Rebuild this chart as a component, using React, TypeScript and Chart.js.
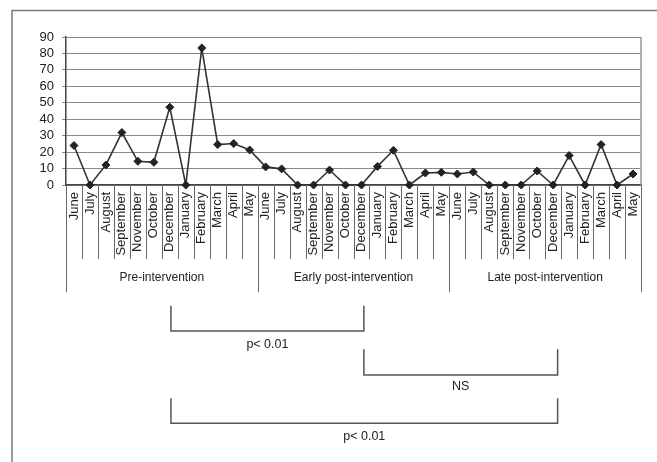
import { useEffect, useRef } from "react";
import { Chart, registerables } from "chart.js";

Chart.register(...registerables);

const months = ["June", "July", "August", "September", "November", "October", "December", "January", "February", "March", "April", "May"];
const categories = [...months, ...months, ...months];
const preValues = [24, 0, 12.2, 31.9, 14.4, 13.8, 47.3, 0, 83.3, 24.6, 25.2, 21.3];
const earlyValues = [11, 9.8, 0, 0, 9.1, 0, 0, 11.3, 21.1, 0, 7.3, 7.7];
const lateValues = [6.7, 7.9, 0, 0, 0, 8.5, 0, 17.9, 0, 24.6, 0, 6.7];
const periodLabels = ["Pre-intervention", "Early post-intervention", "Late post-intervention"];
const yMin = 0;
const yMax = 90;
const yStep = 10;
// comparison brackets, in category-index units
const bracketFrom = [6.07, 18.15, 6.07];
const bracketTo = [18.15, 30.28, 30.28];
const bracketLabels = ["p< 0.01", "NS", "p< 0.01"];

const FONT = "'Liberation Sans', Arial, sans-serif";

export default function App() {
  const ref = useRef<HTMLCanvasElement | null>(null);

  useEffect(() => {
    if (!ref.current) return;
    const bracketLevels = [
      { top: 305.7, bottom: 331, text: 345 },
      { top: 349.3, bottom: 375, text: 386.7 },
      { top: 398.3, bottom: 423.3, text: 436.7 },
    ];

    const decor = {
      id: "decor",
      afterDraw(chart: any) {
        const ctx = chart.ctx as CanvasRenderingContext2D;
        const area = chart.chartArea;
        const xs = chart.scales.x;
        ctx.save();
        // outer frame (top & left)
        ctx.strokeStyle = "#7a7a7a";
        ctx.lineWidth = 1.5;
        ctx.beginPath();
        ctx.moveTo(12, 462);
        ctx.lineTo(12, 10.5);
        ctx.lineTo(657, 10.5);
        ctx.stroke();

        // right border of plot area
        ctx.strokeStyle = "#999";
        ctx.lineWidth = 1.5;
        ctx.beginPath();
        ctx.moveTo(area.right, area.top);
        ctx.lineTo(area.right, area.bottom);
        ctx.stroke();

        // category separators
        const n = categories.length;
        const half = (xs.getPixelForValue(1) - xs.getPixelForValue(0)) / 2;
        ctx.strokeStyle = "#666";
        ctx.lineWidth = 1;
        for (let i = 0; i <= n; i++) {
          const x = i < n ? xs.getPixelForValue(i) - half : xs.getPixelForValue(n - 1) + half;
          const isGroup = i % months.length === 0;
          const yEnd = isGroup ? 292 : 259;
          ctx.beginPath();
          ctx.moveTo(Math.round(x) + 0.5, area.bottom);
          ctx.lineTo(Math.round(x) + 0.5, yEnd);
          ctx.stroke();
        }

        // group labels
        ctx.fillStyle = "#222";
        ctx.font = `12px ${FONT}`;
        ctx.textAlign = "center";
        ctx.textBaseline = "middle";
        periodLabels.forEach((lab, g) => {
          const x0 = xs.getPixelForValue(g * months.length) - half;
          const x1 = xs.getPixelForValue((g + 1) * months.length - 1) + half;
          ctx.fillText(lab, (x0 + x1) / 2, 278);
        });

        // comparison brackets
        ctx.strokeStyle = "#555";
        ctx.lineWidth = 1.5;
        bracketLabels.forEach((lab, k) => {
          const lv = bracketLevels[k];
          const x0 = xs.getPixelForValue(bracketFrom[k]);
          const x1 = xs.getPixelForValue(bracketTo[k]);
          ctx.beginPath();
          ctx.moveTo(x0, lv.top);
          ctx.lineTo(x0, lv.bottom);
          ctx.lineTo(x1, lv.bottom);
          ctx.lineTo(x1, lv.top);
          ctx.stroke();
          ctx.font = `12.5px ${FONT}`;
          ctx.fillText(lab, (x0 + x1) / 2, lv.text);
        });
        ctx.restore();
      },
    };

    const chart = new Chart(ref.current, {
      type: "line",
      data: {
        labels: categories,
        datasets: [
          {
            data: [...preValues, ...earlyValues, ...lateValues],
            borderColor: "#333",
            borderWidth: 1.6,
            tension: 0,
            pointStyle: "rectRot",
            pointRadius: 4,
            pointBackgroundColor: "#222",
            pointBorderColor: "#222",
            pointBorderWidth: 1,
            clip: false as any,
          },
        ],
      },
      options: {
        responsive: false,
        animation: false,
        layout: { padding: { left: 0, right: 16, top: 37, bottom: 0 } },
        plugins: { legend: { display: false }, tooltip: { enabled: false } },
        scales: {
          x: {
            type: "category",
            offset: true,
            grid: { display: false, drawTicks: false },
            border: { display: true, color: "#444", width: 1.5 },
            ticks: {
              autoSkip: false,
              minRotation: 90,
              maxRotation: 90,
              padding: 7,
              color: "#222",
              font: { family: FONT, size: 13 },
            },
            afterFit: (s: any) => {
              s.height = 277;
            },
          },
          y: {
            min: yMin,
            max: yMax,
            ticks: {
              stepSize: yStep,
              autoSkip: false,
              padding: 8,
              color: "#222",
              font: { family: FONT, size: 13 },
            },
            grid: { color: "#888", lineWidth: 1, tickLength: 4, drawTicks: true },
            border: { display: true, color: "#444", width: 1.5 },
            afterFit: (s: any) => {
              s.width = 66;
            },
          },
        },
      },
      plugins: [decor],
    });
    return () => chart.destroy();
  }, []);

  return (
    <div style={{ position: "fixed", left: 0, top: 0, width: 657, height: 462, background: "#fff" }}>
      <canvas ref={ref} width={657} height={462} style={{ display: "block", width: 657, height: 462 }} />
    </div>
  );
}
